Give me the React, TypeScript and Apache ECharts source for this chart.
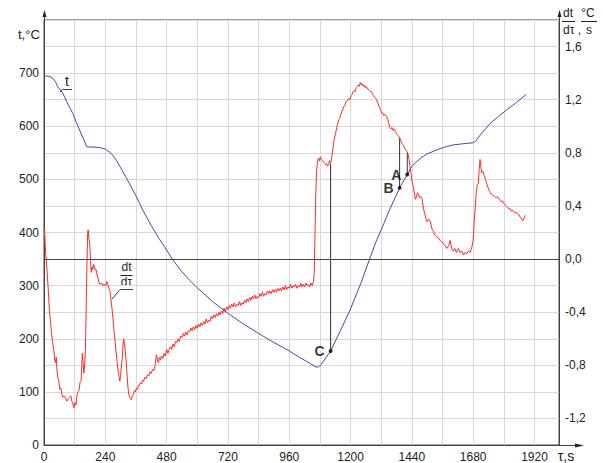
import React, { useEffect, useRef } from "react";
import * as echarts from "echarts";

// temperature t (°C) vs time τ (s)
const tempData: [number, number][] = [
  [0, 695], [20, 694], [35, 690], [45, 684], [53, 675], [74, 662], [90, 645], [113, 624],
  [125, 609], [139, 593], [155, 575], [168, 561], [190, 561], [218, 560], [240, 557],
  [257, 551], [270, 545], [283, 536], [300, 522], [320, 505], [340, 487], [360, 469],
  [387, 442], [420, 413], [450, 389], [480, 367], [505, 348], [540, 326], [570, 310],
  [600, 296], [660, 270], [720, 248], [780, 228], [840, 210], [900, 193], [960, 177],
  [1000, 165], [1040, 154], [1060, 148], [1073, 146], [1085, 152], [1100, 162], [1122, 177],
  [1160, 215], [1198, 254], [1240, 304], [1273, 348], [1300, 383], [1328, 414], [1350, 440],
  [1374, 465], [1392, 484], [1422, 509], [1439, 524], [1460, 534], [1480, 542], [1500, 548],
  [1530, 554], [1563, 560], [1602, 565], [1640, 567], [1681, 569], [1690, 572], [1710, 585],
  [1746, 605], [1780, 619], [1812, 631], [1850, 645], [1888, 660],
];

// cooling/heating rate dt/dτ (°C/s) vs time τ (s)
const rateData: [number, number][] = [
  [0, 0.24], [3, 0.18], [6, 0.06], [9, -0.01], [13, -0.12], [17, -0.24], [21, -0.38], [25, -0.46],
  [29, -0.55], [34, -0.63], [38, -0.68], [42, -0.76], [45, -0.78], [48, -0.74], [51, -0.84],
  [54, -0.89], [58, -0.92], [62, -0.98], [66, -0.97], [70, -1.02], [75, -1.04], [80, -1.03],
  [85, -1.05], [90, -1.07], [95, -1.05], [100, -1.04], [105, -1.03], [109, -1.07], [113, -1.09],
  [117, -1.12], [121, -1.08], [125, -1.1], [129, -1.03], [133, -1.0], [137, -0.99], [141, -0.93],
  [145, -0.92], [148, -0.8], [150, -0.71], [153, -0.78], [156, -0.86], [159, -0.8], [162, -0.69],
  [165, -0.4], [168, -0.05], [171, 0.2], [173, 0.22], [176, 0.15], [179, 0.12], [182, 0.0],
  [185, -0.1], [188, -0.06], [191, -0.08], [194, -0.04], [197, -0.05], [200, -0.08], [204, -0.08],
  [208, -0.12], [212, -0.15], [216, -0.18], [220, -0.19], [225, -0.18], [230, -0.2], [234, -0.19],
  [238, -0.19], [242, -0.2], [246, -0.17], [250, -0.19], [254, -0.22], [258, -0.24], [262, -0.3],
  [266, -0.37], [270, -0.45], [274, -0.54], [278, -0.62], [282, -0.7], [286, -0.77], [290, -0.84],
  [294, -0.89], [297, -0.92], [300, -0.87], [304, -0.78], [307, -0.74], [310, -0.62], [312, -0.6],
  [315, -0.64], [318, -0.69], [321, -0.76], [324, -0.84], [328, -0.95], [331, -1.01], [335, -1.04],
  [339, -1.05], [342, -1.06], [346, -1.03], [350, -1.02], [354, -0.99], [358, -1.0], [362, -0.97],
  [366, -0.98], [370, -0.95], [374, -0.95], [378, -0.93], [382, -0.94], [386, -0.91], [390, -0.92],
  [395, -0.89], [400, -0.9], [405, -0.87], [410, -0.88], [415, -0.85], [420, -0.86], [425, -0.83],
  [430, -0.84], [435, -0.8], [440, -0.72], [444, -0.76], [448, -0.78], [452, -0.74], [456, -0.76],
  [460, -0.73], [465, -0.75], [470, -0.71], [475, -0.73], [480, -0.68], [485, -0.71], [490, -0.68],
  [495, -0.66], [500, -0.68], [505, -0.64], [510, -0.66], [515, -0.62], [520, -0.63], [525, -0.6],
  [530, -0.62], [535, -0.58], [540, -0.59], [545, -0.56], [550, -0.58], [555, -0.55], [560, -0.57],
  [565, -0.54], [570, -0.55], [575, -0.52], [580, -0.54], [585, -0.51], [590, -0.53], [595, -0.5],
  [600, -0.52], [605, -0.49], [610, -0.51], [615, -0.48], [620, -0.5], [625, -0.47], [630, -0.49],
  [635, -0.45], [640, -0.48], [645, -0.46], [650, -0.47], [655, -0.43], [660, -0.45], [665, -0.42],
  [670, -0.44], [675, -0.41], [680, -0.43], [685, -0.4], [690, -0.42], [695, -0.39], [700, -0.41],
  [705, -0.37], [710, -0.4], [715, -0.36], [720, -0.38], [725, -0.35], [730, -0.37], [735, -0.34],
  [740, -0.36], [745, -0.33], [750, -0.36], [755, -0.34], [760, -0.35], [765, -0.32], [770, -0.35],
  [775, -0.33], [780, -0.34], [785, -0.31], [790, -0.33], [795, -0.3], [800, -0.32], [805, -0.29],
  [810, -0.31], [815, -0.28], [820, -0.3], [825, -0.27], [830, -0.3], [835, -0.28], [840, -0.29],
  [845, -0.26], [850, -0.28], [855, -0.25], [860, -0.28], [865, -0.26], [870, -0.27], [875, -0.24],
  [880, -0.26], [885, -0.24], [890, -0.26], [895, -0.23], [900, -0.25], [905, -0.23], [910, -0.25],
  [915, -0.22], [920, -0.24], [925, -0.22], [930, -0.24], [935, -0.21], [940, -0.23], [945, -0.2],
  [950, -0.23], [955, -0.21], [960, -0.22], [965, -0.19], [970, -0.22], [975, -0.2], [980, -0.21],
  [985, -0.19], [990, -0.22], [995, -0.2], [1000, -0.21], [1005, -0.18], [1010, -0.21], [1015, -0.19],
  [1020, -0.21], [1025, -0.18], [1030, -0.2], [1035, -0.19], [1040, -0.21], [1045, -0.18], [1050, -0.2],
  [1055, -0.17], [1058, -0.1], [1061, 0.2], [1064, 0.5], [1067, 0.66], [1070, 0.72], [1074, 0.76],
  [1078, 0.74], [1082, 0.77], [1086, 0.75], [1090, 0.74], [1094, 0.73], [1098, 0.72], [1102, 0.71],
  [1106, 0.72], [1110, 0.7], [1114, 0.71], [1118, 0.74], [1122, 0.72], [1126, 0.76], [1130, 0.82],
  [1134, 0.88], [1138, 0.92], [1142, 0.95], [1146, 0.99], [1150, 1.02], [1154, 1.05], [1158, 1.06],
  [1162, 1.09], [1166, 1.11], [1170, 1.13], [1174, 1.15], [1178, 1.16], [1182, 1.18], [1186, 1.19],
  [1190, 1.2], [1194, 1.21], [1198, 1.2], [1202, 1.23], [1206, 1.24], [1210, 1.26], [1214, 1.27],
  [1218, 1.26], [1222, 1.29], [1226, 1.3], [1230, 1.31], [1234, 1.3], [1238, 1.33], [1242, 1.31],
  [1246, 1.32], [1250, 1.3], [1254, 1.31], [1258, 1.29], [1262, 1.3], [1266, 1.28], [1270, 1.28],
  [1274, 1.27], [1278, 1.26], [1282, 1.26], [1286, 1.24], [1290, 1.23], [1294, 1.22], [1298, 1.21],
  [1302, 1.2], [1306, 1.18], [1310, 1.16], [1314, 1.14], [1318, 1.12], [1322, 1.1], [1326, 1.1],
  [1330, 1.08], [1334, 1.09], [1338, 1.08], [1342, 1.07], [1346, 1.05], [1350, 1.02], [1354, 0.99],
  [1358, 0.98], [1362, 0.99], [1366, 0.97], [1370, 0.98], [1374, 0.97], [1378, 0.95], [1382, 0.94],
  [1386, 0.93], [1390, 0.92], [1393, 0.91], [1397, 0.89], [1401, 0.87], [1405, 0.86], [1409, 0.85],
  [1413, 0.83], [1417, 0.82], [1421, 0.81], [1425, 0.79], [1429, 0.75], [1433, 0.7], [1437, 0.64],
  [1441, 0.58], [1446, 0.54], [1450, 0.49], [1454, 0.45], [1458, 0.47], [1462, 0.5], [1466, 0.49],
  [1470, 0.46], [1474, 0.47], [1479, 0.46], [1484, 0.4], [1488, 0.36], [1492, 0.33], [1496, 0.3],
  [1500, 0.28], [1505, 0.3], [1511, 0.29], [1516, 0.25], [1520, 0.22], [1524, 0.21], [1530, 0.18],
  [1536, 0.17], [1544, 0.16], [1550, 0.14], [1556, 0.13], [1563, 0.12], [1570, 0.1], [1577, 0.08],
  [1584, 0.1], [1590, 0.14], [1594, 0.1], [1598, 0.07], [1602, 0.06], [1608, 0.08], [1614, 0.05],
  [1622, 0.08], [1628, 0.05], [1635, 0.06], [1642, 0.03], [1648, 0.05], [1655, 0.04], [1661, 0.06],
  [1668, 0.05], [1675, 0.09], [1680, 0.14], [1684, 0.28], [1688, 0.39], [1692, 0.5], [1696, 0.56],
  [1700, 0.57], [1704, 0.68], [1707, 0.75], [1711, 0.68], [1714, 0.65], [1718, 0.66], [1723, 0.63],
  [1728, 0.6], [1733, 0.57], [1738, 0.54], [1744, 0.51], [1750, 0.49], [1755, 0.48], [1759, 0.48],
  [1765, 0.47], [1770, 0.46], [1775, 0.47], [1779, 0.46], [1785, 0.44], [1790, 0.43], [1795, 0.44],
  [1798, 0.42], [1804, 0.41], [1810, 0.4], [1815, 0.39], [1818, 0.38], [1824, 0.38], [1830, 0.36],
  [1834, 0.37], [1838, 0.36], [1844, 0.35], [1850, 0.35], [1857, 0.34], [1862, 0.32], [1868, 0.31],
  [1874, 0.29], [1880, 0.31], [1884, 0.33],
];

// marked points (τ, t) and the rate value above each, expressed on the t axis
const pointNames = ["A", "B", "C"];
const pointTau = [1422, 1392, 1122];
const pointTemp = [509, 484, 177];
const pointTop = [549, 577, 529];

const xTickLabels = [0, 240, 480, 720, 960, 1200, 1440, 1680, 1920];
const tTickLabels = [0, 100, 200, 300, 400, 500, 600, 700];
const rateTickLabels = [-1.2, -0.8, -0.4, 0, 0.4, 0.8, 1.2, 1.6];

const FONT = '"Liberation Sans", Arial, sans-serif';

export default function App() {
  const ref = useRef<HTMLDivElement>(null);
  useEffect(() => {
    document.body.style.margin = "0";
    const chart = echarts.init(ref.current!, null, { renderer: "svg" });
    const axisColor = "#444";
    const gridColor = "#d9d9d9";
    const labelStyle = { color: "#222", fontSize: 12, fontFamily: FONT };

    const markerSeries = pointNames.map((name, i) => ({
      type: "line",
      name: "mark" + name,
      yAxisIndex: 0,
      symbol: "none",
      lineStyle: { color: "#333", width: 1 },
      data: [
        [pointTau[i], pointTemp[i]],
        [pointTau[i], pointTop[i]],
      ],
      z: 4,
    }));

    chart.setOption({
      animation: false,
      grid: {
        left: 44,
        right: 44,
        top: 20,
        bottom: 18,
        show: true,
        borderColor: axisColor,
        borderWidth: 1,
      },
      xAxis: {
        type: "value",
        min: 0,
        max: 2016,
        interval: 120,
        axisLine: { lineStyle: { color: axisColor } },
        axisTick: { show: false },
        axisLabel: {
          ...labelStyle,
          margin: 6,
          formatter: (v: number) => (xTickLabels.includes(v) ? String(v) : ""),
        },
        splitLine: { lineStyle: { color: gridColor } },
      },
      yAxis: [
        {
          type: "value",
          min: 0,
          max: 800,
          interval: 50,
          axisLine: { show: true, lineStyle: { color: axisColor } },
          axisTick: { show: false },
          axisLabel: {
            ...labelStyle,
            margin: 5,
            formatter: (v: number) => (tTickLabels.includes(v) ? String(v) : ""),
          },
          splitLine: { lineStyle: { color: gridColor } },
        },
        {
          type: "value",
          position: "right",
          min: -1.4,
          max: 1.8,
          interval: 0.2,
          axisLine: { show: true, lineStyle: { color: axisColor } },
          axisTick: { show: false },
          axisLabel: {
            ...labelStyle,
            margin: 6,
            formatter: (v: number) => {
              const r = Math.round(v * 10) / 10;
              return rateTickLabels.some((x) => Math.abs(x - r) < 1e-6)
                ? r.toFixed(1).replace(".", ",")
                : "";
            },
          },
          splitLine: { show: false },
        },
      ],
      series: [
        {
          type: "line",
          name: "dt/dτ",
          yAxisIndex: 1,
          symbol: "none",
          lineStyle: { color: "#ff2a2a", width: 1 },
          data: rateData,
          z: 2,
          markLine: {
            silent: true,
            symbol: "none",
            label: { show: false },
            lineStyle: { color: "#444", type: "solid", width: 1 },
            data: [{ yAxis: 0 }],
          },
        },
        {
          type: "line",
          name: "t",
          yAxisIndex: 0,
          symbol: "none",
          lineStyle: { color: "#4848a8", width: 1 },
          data: tempData,
          z: 3,
        },
        ...markerSeries,
        {
          type: "scatter",
          name: "points",
          yAxisIndex: 0,
          symbol: "circle",
          symbolSize: 4,
          itemStyle: { color: "#000" },
          z: 5,
          label: {
            show: true,
            position: "left",
            distance: 4,
            formatter: (p: any) => pointNames[p.dataIndex],
            fontFamily: FONT,
            fontWeight: "bold",
            fontSize: 14,
            color: "#000",
          },
          data: pointTau.map((x, i) => [x, pointTemp[i]]),
        },
      ],
      graphic: [
        // axis arrows and extension
        { type: "line", shape: { x1: 44.5, y1: 20, x2: 44.5, y2: 12 }, style: { stroke: axisColor, lineWidth: 1 } },
        { type: "polygon", shape: { points: [[42.5, 17], [44.5, 10], [46.5, 17]] }, style: { fill: "#222" } },
        { type: "line", shape: { x1: 559.5, y1: 20, x2: 559.5, y2: 12 }, style: { stroke: axisColor, lineWidth: 1 } },
        { type: "polygon", shape: { points: [[557.5, 17], [559.5, 10], [561.5, 17]] }, style: { fill: "#222" } },
        { type: "line", shape: { x1: 559, y1: 445.5, x2: 582, y2: 445.5 }, style: { stroke: axisColor, lineWidth: 1 } },
        { type: "polygon", shape: { points: [[575, 443.5], [584, 445.5], [575, 447.5]] }, style: { fill: "#222" } },
        // axis titles
        { type: "text", x: 18, y: 34, style: { text: "t,°C", font: `13px ${FONT}`, fill: "#222", verticalAlign: "middle" } },
        { type: "text", x: 566, y: 456, style: { text: "τ,s", font: `14px ${FONT}`, fill: "#222", align: "center", verticalAlign: "middle" } },
        { type: "text", x: 568, y: 13, style: { text: "dt", font: `12px ${FONT}`, fill: "#222", align: "center", verticalAlign: "middle" } },
        { type: "line", shape: { x1: 562, y1: 21.5, x2: 575, y2: 21.5 }, style: { stroke: "#222", lineWidth: 1 } },
        { type: "text", x: 563, y: 30, style: { text: "dτ ,", font: `12px ${FONT}`, fill: "#222", verticalAlign: "middle" } },
        { type: "text", x: 588, y: 13, style: { text: "°C", font: `12px ${FONT}`, fill: "#222", align: "center", verticalAlign: "middle" } },
        { type: "line", shape: { x1: 581, y1: 21.5, x2: 597, y2: 21.5 }, style: { stroke: "#222", lineWidth: 1 } },
        { type: "text", x: 589, y: 30, style: { text: "s", font: `12px ${FONT}`, fill: "#222", align: "center", verticalAlign: "middle" } },
        // series labels
        { type: "text", x: 67, y: 81, style: { text: "t", font: `14px ${FONT}`, fill: "#222", align: "center", verticalAlign: "middle" } },
        { type: "polyline", shape: { points: [[60, 92], [62.5, 89.5], [72, 89.5]] }, style: { stroke: "#444", lineWidth: 1, fill: null } },
        { type: "text", x: 126.5, y: 267, style: { text: "dt", font: `12px ${FONT}`, fill: "#222", align: "center", verticalAlign: "middle" } },
        { type: "line", shape: { x1: 120.5, y1: 275.5, x2: 132.5, y2: 275.5 }, style: { stroke: "#222", lineWidth: 1 } },
        { type: "text", x: 126.5, y: 282, style: { text: "dτ", font: `12px ${FONT}`, fill: "#222", align: "center", verticalAlign: "middle" } },
        { type: "polyline", shape: { points: [[112, 299], [120, 289.5], [133, 289.5]] }, style: { stroke: "#444", lineWidth: 1, fill: null } },
      ],
    });
    return () => chart.dispose();
  }, []);
  return <div ref={ref} style={{ width: 603, height: 463 }} />;
}
